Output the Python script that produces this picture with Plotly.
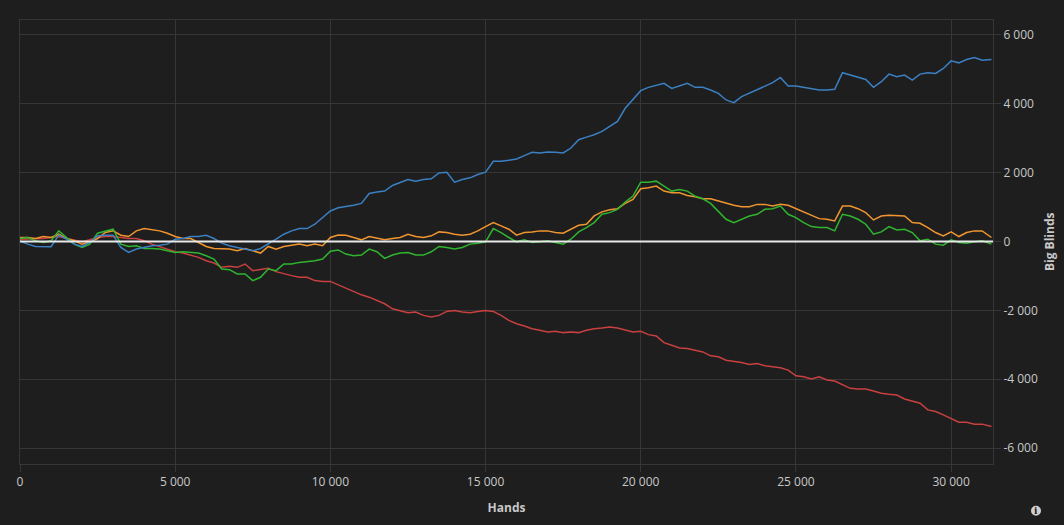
import plotly.graph_objects as go

hands = [i * 250 for i in range(125)] + [31300]

blue = [19, -77, -144, -144, -154, 183, 67, -77, -144, -29,
        164, 183, 183, -173, -318, -221, -173, -125, -106, -77,
        67, 87, 144, 144, 183, 87, -48, -125, -173, -221,
        -270, -202, -77, 67, 212, 308, 376, 376, 501, 693,
        886, 980, 1011, 1050, 1107, 1396, 1435, 1464, 1627, 1705,
        1801, 1753, 1801, 1820, 1993, 2013, 1724, 1801, 1849, 1945,
        2013, 2330, 2330, 2359, 2398, 2494, 2590, 2571, 2600, 2590,
        2571, 2715, 2956, 3033, 3100, 3197, 3342, 3486, 3871, 4112,
        4382, 4478, 4545, 4594, 4449, 4516, 4594, 4478, 4478, 4401,
        4305, 4112, 4035, 4208, 4305, 4401, 4497, 4613, 4767, 4516,
        4516, 4478, 4420, 4401, 4401, 4420, 4902, 4834, 4786, 4709,
        4478, 4642, 4863, 4786, 4834, 4690, 4863, 4902, 4882, 5027,
        5248, 5190, 5287, 5345, 5268, 5287]

orange = [116, 116, 87, 144, 116, 212, 87, 19, -77, -10,
          87, 260, 308, 183, 144, 308, 376, 337, 308, 241,
          144, 87, 87, -29, -144, -202, -202, -221, -270, -202,
          -270, -337, -144, -221, -144, -106, -77, -125, -77, -125,
          116, 190, 183, 116, 48, 144, 87, 48, 87, 116,
          212, 144, 116, 164, 279, 260, 212, 183, 212, 308,
          433, 549, 453, 356, 183, 260, 279, 308, 308, 260,
          241, 356, 472, 501, 742, 860, 920, 953, 1107, 1223,
          1531, 1560, 1608, 1464, 1415, 1415, 1339, 1300, 1242, 1242,
          1175, 1107, 1050, 1011, 1011, 1078, 1078, 1030, 1078, 1050,
          953, 838, 741, 664, 645, 597, 1030, 1030, 953, 838,
          626, 741, 761, 741, 741, 549, 530, 404, 260, 164,
          279, 144, 260, 308, 308, 116]

green = [87, 116, 19, -29, 19, 308, 116, -77, -173, -77,
         241, 308, 356, -77, -144, -125, -202, -202, -221, -270,
         -318, -298, -318, -337, -414, -510, -799, -818, -944, -944,
         -1136, -1040, -799, -847, -655, -655, -607, -587, -559, -510,
         -285, -245, -366, -414, -395, -221, -299, -491, -395, -337,
         -318, -395, -395, -299, -144, -173, -221, -173, -77, -48,
         -10, 376, 260, 116, -10, 48, -29, -10, 19, -29,
         -77, 67, 279, 404, 549, 790, 838, 934, 1146, 1319,
         1724, 1724, 1753, 1608, 1464, 1512, 1464, 1319, 1242, 1107,
         886, 645, 549, 645, 741, 790, 934, 953, 1030, 790,
         693, 549, 433, 404, 404, 308, 790, 741, 645, 501,
         212, 279, 433, 337, 356, 260, 19, 67, -77, -106,
         48, -29, -48, -10, 19, -77]

red = [67, 67, 87, 87, 116, 144, 87, 48, -10, 48,
       116, 144, 144, 116, 87, 87, 19, -77, -144, -221,
       -298, -337, -395, -462, -559, -626, -751, -722, -751, -655,
       -847, -818, -780, -876, -944, -992, -1040, -1040, -1136, -1165,
       -1160, -1257, -1377, -1473, -1550, -1618, -1714, -1810, -1955, -2003,
       -2070, -2051, -2147, -2195, -2147, -2032, -2003, -2051, -2070, -2032,
       -2003, -2032, -2147, -2292, -2388, -2456, -2533, -2581, -2629, -2610,
       -2648, -2629, -2648, -2581, -2533, -2514, -2485, -2514, -2582, -2630,
       -2611, -2707, -2745, -2938, -3015, -3092, -3111, -3160, -3208, -3323,
       -3352, -3449, -3477, -3516, -3574, -3545, -3612, -3641, -3670, -3737,
       -3901, -3930, -3997, -3930, -4026, -4055, -4151, -4267, -4287, -4287,
       -4344, -4411, -4440, -4459, -4575, -4633, -4700, -4893, -4941, -5037,
       -5153, -5250, -5250, -5307, -5307, -5374]

x_tickvals = [0, 5000, 10000, 15000, 20000, 25000, 30000]
x_ticktext = ["0", "5 000", "10 000", "15 000", "20 000", "25 000", "30 000"]
y_tickvals = [-6000, -4000, -2000, 0, 2000, 4000, 6000]
y_ticktext = ["-6 000", "-4 000", "-2 000", "0", "2 000", "4 000", "6 000"]

series = [
    ("red", red, "#c94040"),
    ("orange", orange, "#f0952f"),
    ("green", green, "#2fb52f"),
    ("blue", blue, "#3b80c3"),
]

fig = go.Figure()
for name, vals, col in series:
    fig.add_trace(go.Scatter(x=hands, y=vals, mode="lines", name=name,
                             line=dict(color=col, width=1.5), hoverinfo="skip"))

grid = "#363636"
txt = "#c8c8c8"
fig.update_layout(
    width=1064, height=525,
    margin=dict(l=20, r=71, t=20, b=59),
    paper_bgcolor="#1e1e1e", plot_bgcolor="#1e1e1e",
    showlegend=False,
    font=dict(family="Open Sans, sans-serif", size=12, color=txt),
    xaxis=dict(range=[0, 31350], tickvals=x_tickvals, ticktext=x_ticktext,
               showgrid=True, gridcolor=grid, gridwidth=1, zeroline=False,
               showline=True, linecolor=grid, mirror=True,
               ticks="outside", ticklen=7, tickcolor=grid,
               tickfont=dict(size=12, color=txt),
               title=dict(text="<b>Hands</b>", font=dict(size=12, color=txt), standoff=14)),
    yaxis=dict(range=[-6465, 6435], side="right", tickvals=y_tickvals, ticktext=y_ticktext,
               showgrid=True, gridcolor=grid, gridwidth=1, zeroline=False,
               showline=True, linecolor=grid, mirror=True,
               ticks="outside", ticklen=7, tickcolor=grid,
               tickfont=dict(size=12, color=txt)),
    shapes=[
        dict(type="line", xref="paper", x0=0, x1=1, yref="y", y0=0, y1=0,
             line=dict(color="#e8e8e8", width=2), layer="above"),
        dict(type="circle", xref="paper", yref="paper",
             x0=(1031 - 20) / 973, x1=(1041 - 20) / 973,
             y0=(466 - 518) / 446, y1=(466 - 508) / 446,
             fillcolor="#d0d0d0", line=dict(width=0)),
    ],
    annotations=[
        dict(text="<b>Big Blinds</b>", xref="paper", yref="paper",
             x=(1049 - 20) / 973, y=0.5, textangle=-90, showarrow=False,
             font=dict(size=12, color=txt), xanchor="center", yanchor="middle"),
        dict(text="<b>i</b>", xref="paper", yref="paper",
             x=(1036 - 20) / 973, y=(466 - 513) / 446, showarrow=False,
             font=dict(size=9, color="#1e1e1e", family="DejaVu Serif"),
             xanchor="center", yanchor="middle"),
    ],
)

fig.write_html("out.html", config={"displayModeBar": False},
               post_script="document.body.style.margin='0';document.body.style.background='#1e1e1e';")
